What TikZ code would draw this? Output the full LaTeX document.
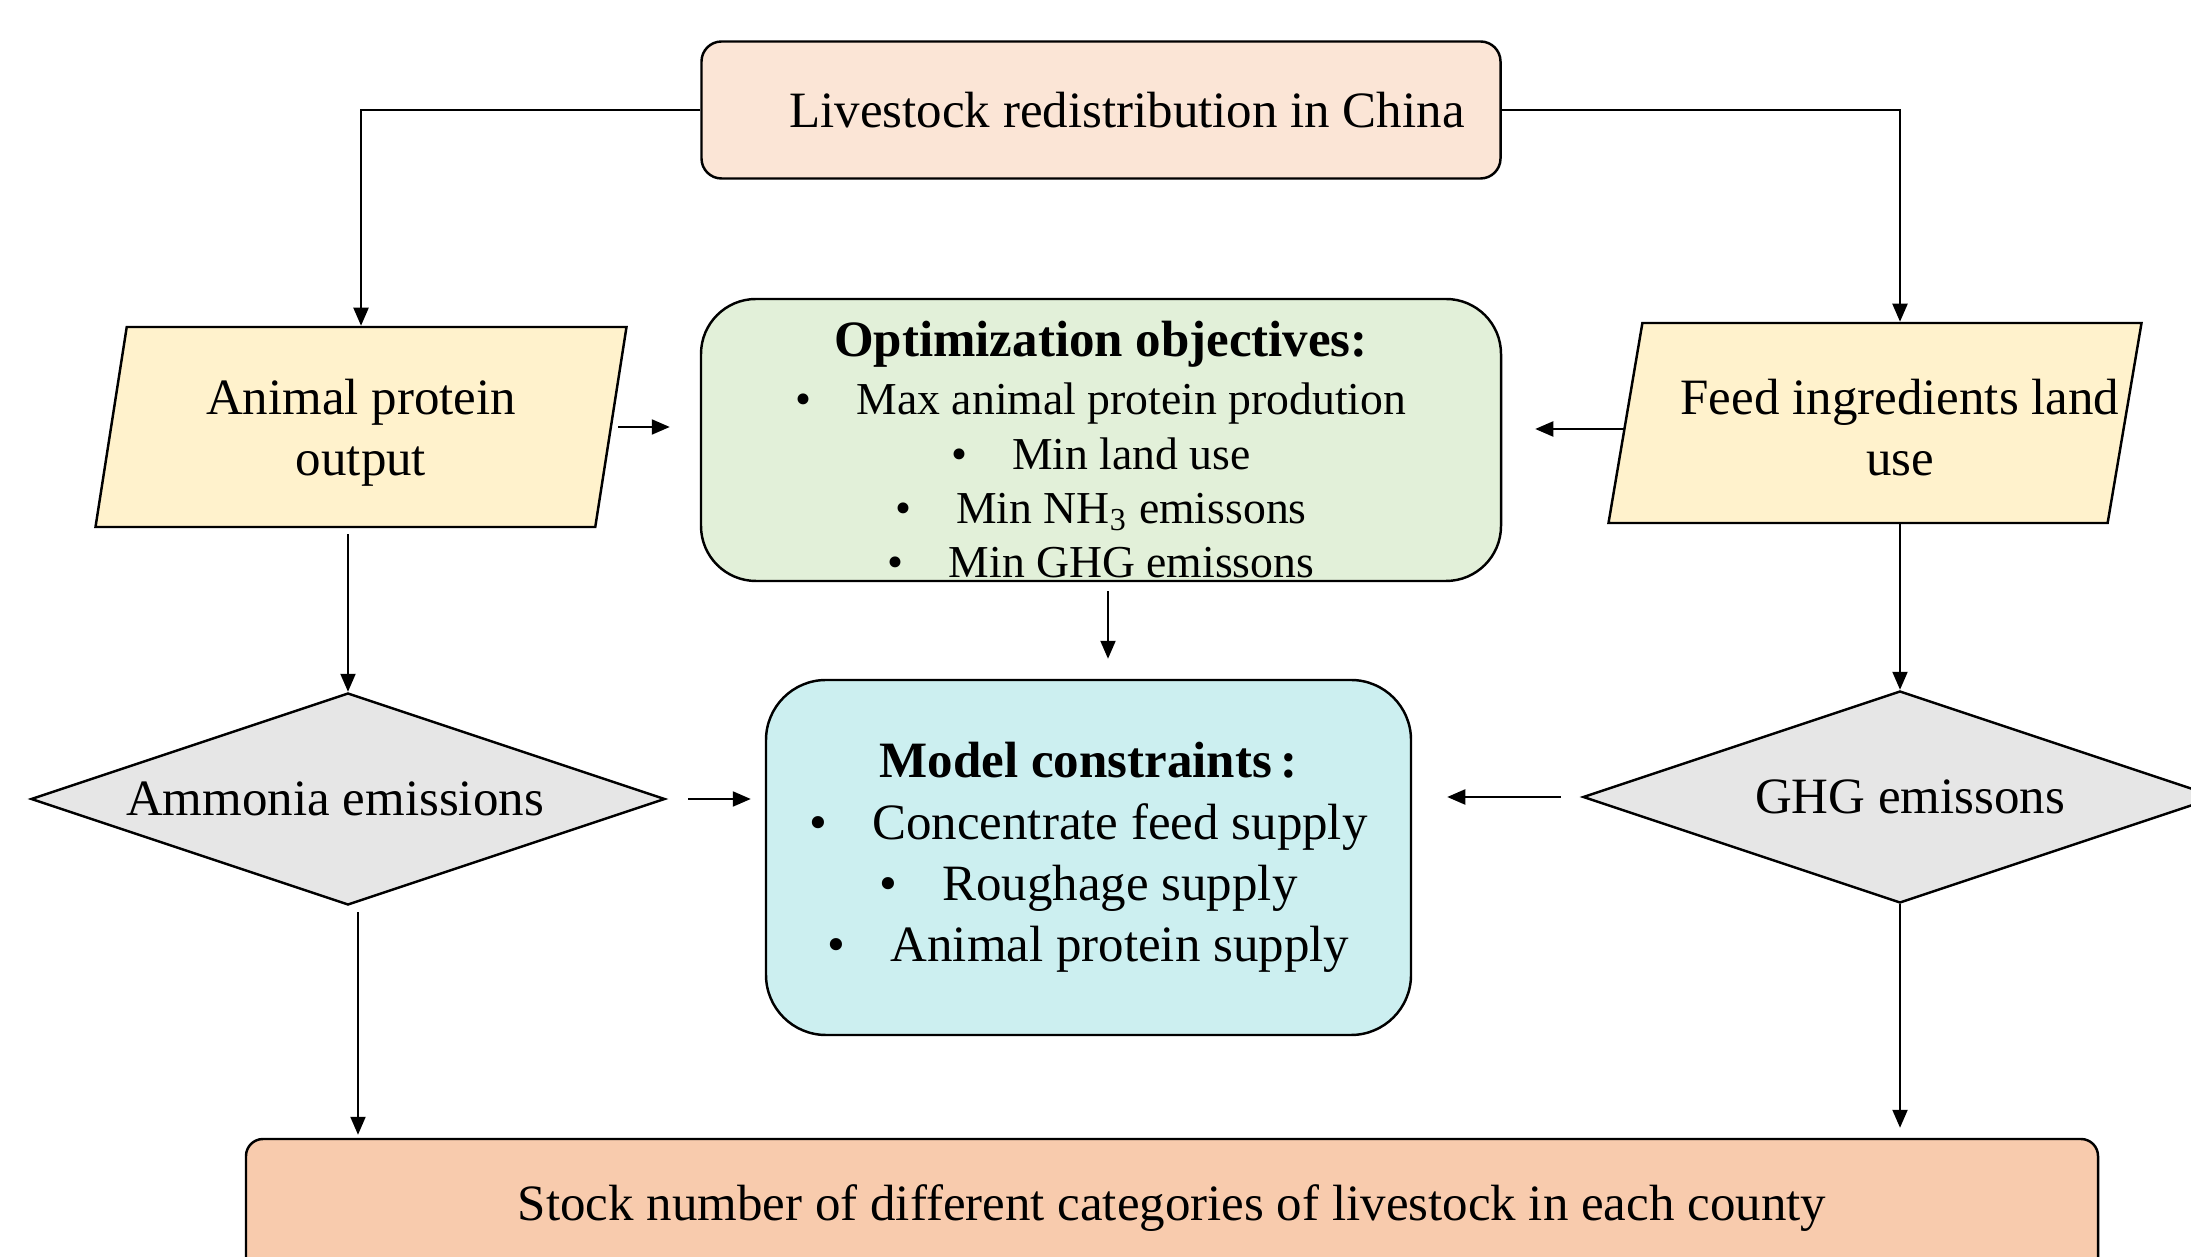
\documentclass[tikz,border=0pt]{standalone}
\usepackage{fontspec}
\setmainfont{Liberation Serif}
\usetikzlibrary{arrows.meta,shapes.geometric}
\definecolor{headfill}{HTML}{FBE5D6}
\definecolor{goalfill}{HTML}{E2F0D9}
\definecolor{limitfill}{HTML}{CCEFF0}
\definecolor{datafill}{HTML}{FFF2CC}
\definecolor{checkfill}{HTML}{E6E6E6}
\definecolor{resultfill}{HTML}{F8CBAD}
\tikzset{
  flow box/.style={draw,line width=.7pt,align=center},
  flow data/.style={draw,line width=.7pt,fill=datafill,align=center,trapezium,
    trapezium left angle=75.4,trapezium right angle=104.6,trapezium stretches body,
    minimum height=2cm},
  flow check/.style={draw,line width=.7pt,fill=checkfill,diamond,shape aspect=3,
    inner sep=0pt,minimum width=6.34cm,minimum height=2.12cm},
  flow arrow/.style={line width=.6pt,-{Triangle[length=1.8mm,width=1.5mm]}}
}

\begin{document}
\begin{tikzpicture}[font=\fontsize{14.5}{17.4}\selectfont]
  \useasboundingbox (0,0) rectangle (21.91,-12.57);
  \node[flow box,fill=headfill,rounded corners=.2cm,minimum width=7.99cm,minimum height=1.37cm]
    (top) at (11.01,-1.10) {\hspace*{.52cm}Livestock redistribution in China};
  \node[flow box,fill=goalfill,rounded corners=.55cm,minimum width=8cm,minimum height=2.82cm,
    inner ysep=0pt,font=\fontsize{13}{15.5}\selectfont] (obj) at (11.01,-4.40)
    {\rule{0pt}{.55cm}{\fontsize{14.5}{17}\selectfont\bfseries Optimization objectives:}\\[1pt]
     \textbullet\hspace{.45cm}Max animal protein prodution\\
     \textbullet\hspace{.45cm}Min land use\\
     \textbullet\hspace{.45cm}Min NH\textsubscript{3} emissons\\
     \textbullet\hspace{.45cm}Min GHG emissons};
  \node[flow data,minimum width=5.31cm,text depth=0pt] (apo) at (3.61,-4.27) {Animal protein\\output};
  \node[flow data,minimum width=5.33cm] (feed) at (18.75,-4.23)
    {\rule{0pt}{.45cm}\makebox[0pt]{\hspace*{.5cm}Feed ingredients land}\\\makebox[0pt]{\hspace*{.5cm}use}};
  \node[flow check] (amm) at (3.48,-7.99) {Ammonia emissions\hspace*{.26cm}};
  \node[flow check] (ghg) at (19.00,-7.97) {\hspace*{.2cm}GHG emissons};
  \node[flow box,fill=limitfill,rounded corners=.6cm,minimum width=6.45cm,minimum height=3.55cm]
    (cons) at (10.885,-8.575)
    {{\bfseries Model constraints\thinspace:}\\
     \textbullet\hspace{.45cm}Concentrate feed supply\\
     \textbullet\hspace{.45cm}Roughage supply\\
     \textbullet\hspace{.45cm}Animal protein supply};
  \node[flow box,fill=resultfill,rounded corners=.17cm,minimum width=18.52cm,minimum height=1.38cm]
    (stock) at (11.72,-12.08) {Stock number of different categories of livestock in each county};

  \draw[flow arrow] (top.west) -| (apo.north);
  \draw[flow arrow] (top.east) -| (ghg.north |- feed.north);
  \draw[flow arrow,shorten <=.06cm,shorten >=.3cm] (apo.east) -- (apo.east -| obj.west);
  \draw[flow arrow,shorten >=.33cm] ([yshift=-.06cm]feed.west) -- ([yshift=-.06cm]feed.west -| obj.east);
  \draw[flow arrow,shorten <=.09cm,shorten >=.2cm] ([xshift=.07cm]obj.south) -- ([xshift=.07cm]obj.south |- cons.north);
  \draw[flow arrow,shorten <=.22cm,shorten >=.14cm] (amm.east) -- (amm.east -| cons.west);
  \draw[flow arrow,shorten <=.21cm,shorten >=.35cm] (ghg.west) -- (ghg.west -| cons.east);
  \draw[flow arrow,shorten <=.06cm] (apo.south -| amm.north) -- (amm.north);
  \draw[flow arrow] (feed.south -| ghg.north) -- (ghg.north);
  \draw[flow arrow,shorten <=.06cm,shorten >=.03cm] ([xshift=.1cm]amm.south) -- ([xshift=.1cm]amm.south |- stock.north);
  \draw[flow arrow,shorten >=.1cm] (ghg.south) -- (ghg.south |- stock.north);
\end{tikzpicture}
\end{document}
